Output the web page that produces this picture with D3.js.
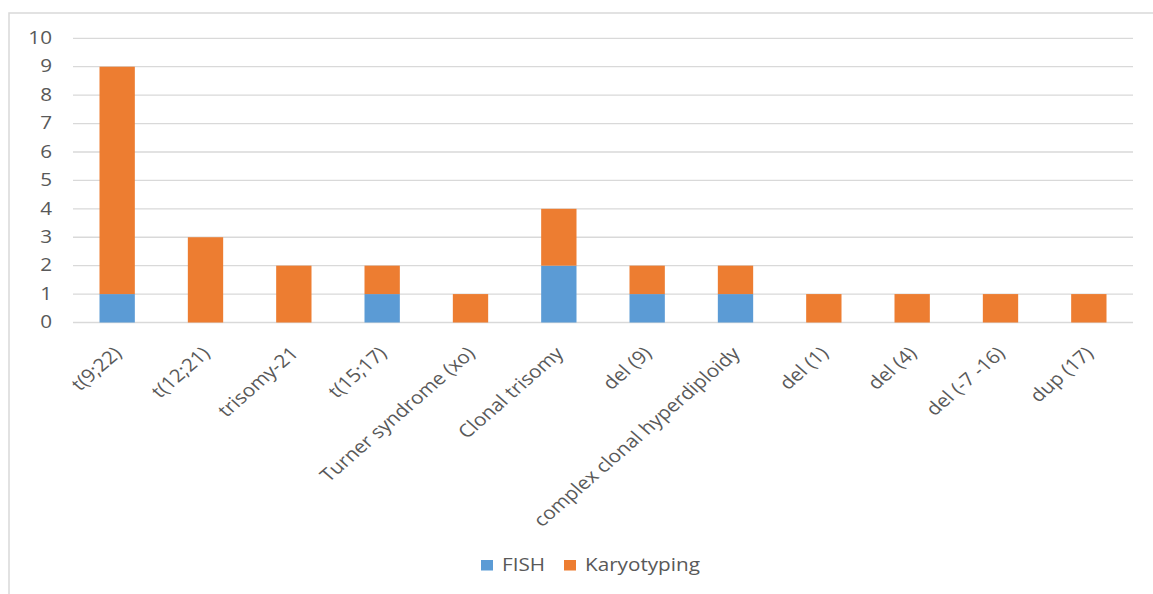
<!DOCTYPE html>
<html>
<head>
<meta charset="utf-8">
<script src="https://cdn.jsdelivr.net/npm/d3@7"></script>
<style>
  html, body { margin: 0; padding: 0; background: #fff; }
  svg { display: block; }
  text { font-family: "Open Sans", sans-serif; fill: #595959; font-size: 18px; }
</style>
</head>
<body>
<svg id="chart" width="1153" height="594"></svg>
<script>
// Chromosomal abnormalities detected, by method
const categories = ["t(9;22)", "t(12;21)", "trisomy-21", "t(15;17)", "Turner syndrome (xo)",
  "Clonal trisomy", "del (9)", "complex clonal hyperdiploidy", "del (1)", "del (4)",
  "del (-7 -16)", "dup (17)"];
const fishValues = [1, 0, 0, 1, 0, 2, 1, 1, 0, 0, 0, 0];
const karyotypingValues = [8, 3, 2, 1, 1, 2, 1, 1, 1, 1, 1, 1];
const seriesNames = ["FISH", "Karyotyping"];
const seriesColors = ["#5B9BD5", "#ED7D31"];
const yTicks = [0, 1, 2, 3, 4, 5, 6, 7, 8, 9, 10];

const svg = d3.select("#chart");
const W = 1153, H = 594;
const plot = { left: 73, right: 1133, top: 38.3, bottom: 322.5 };
const stretch = 1.15; // horizontal text widening

// outer chart frame
svg.append("rect")
  .attr("x", 9).attr("y", 13)
  .attr("width", W + 10).attr("height", H + 10)
  .attr("fill", "none").attr("stroke", "#D9D9D9").attr("stroke-width", 1.5);

const rows = categories.map((c, i) => ({ cat: c, FISH: fishValues[i], Karyotyping: karyotypingValues[i] }));
const stacked = d3.stack().keys(seriesNames)(rows);

const x = d3.scaleBand().domain(categories).range([plot.left, plot.right]).paddingInner(0.6).paddingOuter(0.3);
const y = d3.scaleLinear().domain([0, 10]).range([plot.bottom, plot.top]);

// gridlines
svg.append("g").selectAll("line").data(yTicks).join("line")
  .attr("x1", plot.left).attr("x2", plot.right)
  .attr("y1", d => y(d)).attr("y2", d => y(d))
  .attr("stroke", "#D9D9D9").attr("stroke-width", 1.3);

// y axis labels
const yAxis = svg.append("g")
  .call(d3.axisLeft(y).tickValues(yTicks).tickSize(0).tickPadding(0));
yAxis.select(".domain").remove();
yAxis.selectAll(".tick").attr("transform", d => `translate(${plot.left - 21},${y(d)}) scale(${stretch},1)`);
yAxis.selectAll("text").attr("fill", "#595959")
  .style("font-size", "18px").style("font-family", "'Open Sans', sans-serif");

// stacked bars
svg.append("g").selectAll("g").data(stacked).join("g")
  .attr("fill", (d, i) => seriesColors[i])
  .selectAll("rect").data(d => d.filter(s => s[1] - s[0] > 0)).join("rect")
  .attr("x", d => x(d.data.cat))
  .attr("width", x.bandwidth())
  .attr("y", d => y(d[1]))
  .attr("height", d => y(d[0]) - y(d[1]));

// category labels, rotated
const xAxis = svg.append("g")
  .call(d3.axisBottom(x).tickSize(0).tickPadding(0));
xAxis.select(".domain").remove();
xAxis.selectAll(".tick")
  .attr("transform", d => `translate(${x(d) + x.bandwidth() / 2 - 7},${plot.bottom + 21}) scale(${stretch},1) rotate(-45)`);
xAxis.selectAll("text")
  .attr("fill", "#595959")
  .style("font-size", "18px").style("font-family", "'Open Sans', sans-serif")
  .attr("text-anchor", "end")
  .attr("dy", null).attr("y", 0)
  .attr("dominant-baseline", "hanging");

// legend
const legend = svg.append("g");
const legendItems = [{ x: 481, name: seriesNames[0], color: seriesColors[0] },
                     { x: 564, name: seriesNames[1], color: seriesColors[1] }];
legend.selectAll("rect").data(legendItems).join("rect")
  .attr("x", d => d.x).attr("y", 560).attr("width", 12).attr("height", 10.5)
  .attr("fill", d => d.color);
legend.selectAll("text").data(legendItems).join("text")
  .attr("transform", d => `translate(${d.x + 21},571) scale(${stretch},1)`)
  .text(d => d.name);
</script>
</body>
</html>
